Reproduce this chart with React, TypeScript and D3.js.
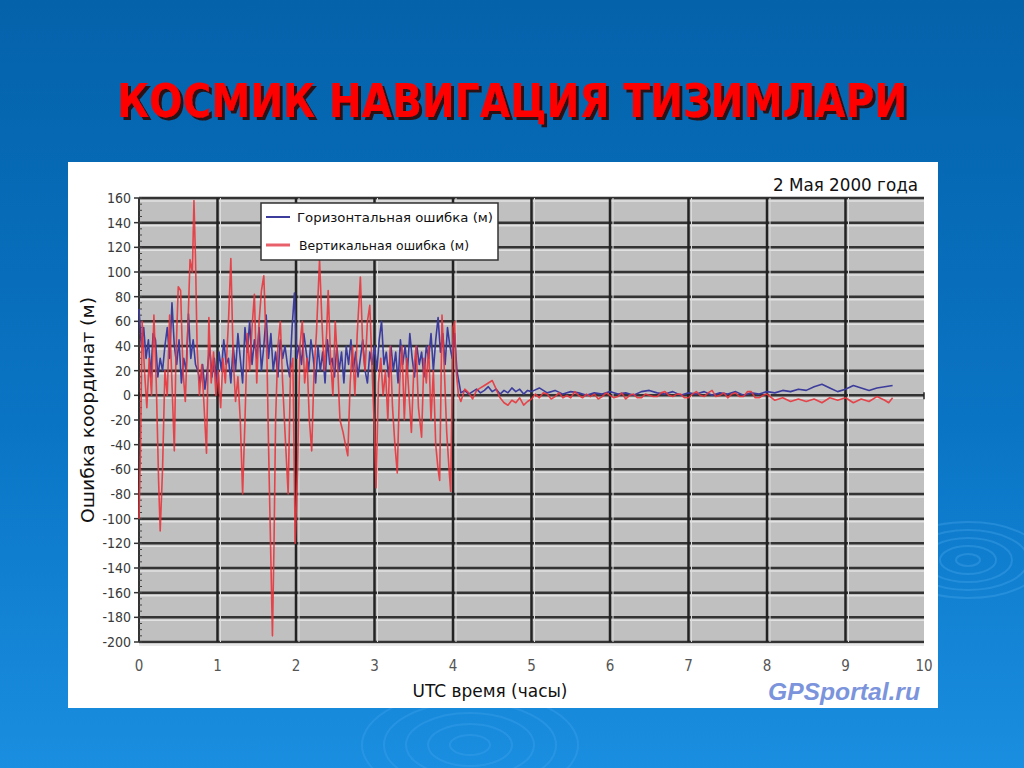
import * as d3 from 'd3'

// chart values
const yTicks = [160, 140, 120, 100, 80, 60, 40, 20, 0, -20, -40, -60, -80, -100, -120, -140, -160, -180, -200]
const xTicks = [0, 1, 2, 3, 4, 5, 6, 7, 8, 9, 10]

const horizHours = [
  0.0, 0.03, 0.06, 0.09, 0.12, 0.15, 0.18, 0.21, 0.24, 0.27, 0.3, 0.33, 0.36, 0.39, 0.42, 0.45, 0.48, 0.51, 0.54, 0.57,
  0.6, 0.63, 0.66, 0.69, 0.72, 0.75, 0.78, 0.81, 0.84, 0.87, 0.9, 0.93, 0.96, 0.99, 1.02, 1.05, 1.08, 1.11, 1.14, 1.17,
  1.2, 1.23, 1.26, 1.29, 1.32, 1.35, 1.38, 1.41, 1.44, 1.47, 1.5, 1.53, 1.56, 1.59, 1.62, 1.65, 1.68, 1.71, 1.74, 1.77,
  1.8, 1.83, 1.86, 1.89, 1.92, 1.95, 1.98, 2.01, 2.04, 2.07, 2.1, 2.13, 2.16, 2.19, 2.22, 2.25, 2.28, 2.31, 2.34, 2.37,
  2.4, 2.43, 2.46, 2.49, 2.52, 2.55, 2.58, 2.61, 2.64, 2.67, 2.7, 2.73, 2.76, 2.79, 2.82, 2.85, 2.88, 2.91, 2.94, 2.97,
  3.0, 3.03, 3.06, 3.09, 3.12, 3.15, 3.18, 3.21, 3.24, 3.27, 3.3, 3.33, 3.36, 3.39, 3.42, 3.45, 3.48, 3.51, 3.54, 3.57,
  3.6, 3.63, 3.66, 3.69, 3.72, 3.75, 3.78, 3.81, 3.84, 3.87, 3.9, 3.93, 3.96, 3.99, 4.02, 4.05, 4.1,
  4.15, 4.2, 4.25, 4.3, 4.35, 4.4, 4.45, 4.5, 4.55, 4.6, 4.65, 4.7, 4.75, 4.8, 4.85, 4.9, 4.95, 5.0,
  5.1, 5.2, 5.3, 5.4, 5.5, 5.6, 5.7, 5.8, 5.9, 6.0, 6.1, 6.2, 6.3, 6.4,
  6.5, 6.6, 6.7, 6.8, 6.9, 7.0, 7.1, 7.2, 7.3, 7.4, 7.5, 7.6, 7.7, 7.8, 7.9, 8.0, 8.1, 8.2, 8.3, 8.4, 8.5, 8.6, 8.7,
  8.8, 8.9, 9.0, 9.1, 9.2, 9.3, 9.4, 9.5, 9.6,
]
const horizError = [
  70, 40, 55, 30, 45, 15, 50, 45, 15, 30, 20, 40, 55, 30, 75, 40, 25, 45, 10, 30,
  20, 66, 30, 45, 25, 20, 10, 25, 5, 20, 40, 15, 30, 10, 35, 20, 45, 25, 30, 10,
  40, 20, 50, 30, 10, 55, 35, 60, 25, 45, 30, 55, 20, 40, 65, 30, 50, 20, 35, 15,
  45, 30, 40, 25, 15, 55, 83, 30, 40, 25, 50, 35, 20, 45, 30, 10, 40, 20, 35, 10,
  45, 25, 30, 15, 40, 20, 35, 10, 40, 25, 45, 20, 35, 15, 30, 45, 20, 10, 35, 25,
  40, 20, 45, 60, 25, 35, 15, 40, 20, 35, 10, 45, 25, 40, 20, 50, 30, 15, 40, 25,
  35, 15, 40, 30, 50, 20, 45, 63, 35, 50, 25, 55, 40, 30, 50, 20, 2,
  4, 1, 3, 5, 2, 4, 7, 3, 5, 1, 4, 2, 6, 3, 5, 1, 4, 3,
  6, 2, 4, 1, 3, 2, 0, 2, 1, 3, 1, 2, 0, 3,
  4, 2, 1, 3, 0, 2, 1, 3, 0, 2, 1, 3, 0, 2, 1, 3, 2, 4, 3, 5, 4, 7, 9,
  6, 3, 5, 8, 6, 4, 6, 7, 8,
]

const vertHours = [
  0.0, 0.02, 0.04, 0.07, 0.1, 0.13, 0.16, 0.19, 0.22, 0.25, 0.27, 0.3, 0.33, 0.36, 0.39, 0.42, 0.45, 0.47, 0.5, 0.53,
  0.56, 0.59, 0.62, 0.65, 0.68, 0.7, 0.72, 0.74, 0.77, 0.8, 0.83, 0.86, 0.89, 0.92, 0.95, 0.98, 1.01, 1.04, 1.07, 1.1,
  1.14, 1.17, 1.2, 1.23, 1.26, 1.29, 1.32, 1.35, 1.38, 1.41, 1.44, 1.47, 1.5, 1.53, 1.56, 1.59, 1.61, 1.63, 1.65, 1.67,
  1.7, 1.72, 1.74, 1.77, 1.8, 1.83, 1.86, 1.9, 1.93, 1.96, 1.99, 2.02, 2.05, 2.08, 2.11, 2.14, 2.17, 2.2, 2.23, 2.26,
  2.3, 2.33, 2.36, 2.39, 2.41, 2.44, 2.47, 2.5, 2.53, 2.56, 2.6, 2.63, 2.66, 2.69, 2.72, 2.75, 2.78, 2.82, 2.85, 2.88,
  2.91, 2.94, 2.97, 3.0, 3.02, 3.05, 3.08, 3.11, 3.14, 3.17, 3.2, 3.23, 3.26, 3.29, 3.32, 3.35, 3.38, 3.41, 3.44, 3.47,
  3.5, 3.53, 3.56, 3.6, 3.63, 3.66, 3.69, 3.72, 3.75, 3.78, 3.81, 3.83, 3.86, 3.89, 3.92, 3.95, 3.97, 4.0, 4.02, 4.04,
  4.07, 4.1, 4.15, 4.2, 4.25, 4.3, 4.35, 4.4, 4.45, 4.5, 4.55, 4.6, 4.65, 4.7, 4.75, 4.8, 4.85, 4.9, 4.95, 5.0,
  5.05, 5.1, 5.15, 5.2, 5.25, 5.3, 5.35, 5.4, 5.45, 5.5, 5.55, 5.6, 5.65, 5.7, 5.75, 5.8, 5.85, 5.9, 5.95, 6.0,
  6.05, 6.1, 6.15, 6.2, 6.25, 6.3, 6.35, 6.4, 6.45, 6.5, 6.55, 6.6, 6.65, 6.7, 6.75, 6.8, 6.85, 6.9, 6.95, 7.0,
  7.05, 7.1, 7.15, 7.2, 7.25, 7.3, 7.35, 7.4, 7.45, 7.5, 7.55, 7.6, 7.65, 7.7, 7.75, 7.8, 7.85, 7.9, 7.95, 8.0,
  8.1, 8.2, 8.3, 8.4, 8.5, 8.6, 8.7, 8.8, 8.9, 9.0,
  9.1, 9.2, 9.3, 9.4, 9.5, 9.55, 9.6,
]
const vertError = [
  -100, -40, 60, 20, -10, 30, 0, 65, 10, -70, -110, -60, 20, 0, 65, 10, -45, 30, 88, 85,
  20, -5, 50, 110, 100, 158, 110, 40, 0, 25, -10, -47, 63, 10, 35, 0, 20, -10, 30, 10,
  60, 111, 30, -5, 15, -20, -80, -20, 50, 20, 55, 82, 10, 60, 85, 97, 60, 30, -40, -103,
  -195, -120, -20, 40, 60, 10, -30, -80, 20, 30, -120, -60, 40, 60, 10, 30, -20, -45, 20, 50,
  110, 60, 20, 50, 85, 30, 0, 60, 25, -20, -30, -40, -49, 10, 40, 0, 50, 96, 40, 20,
  60, 73, 20, -30, -75, 10, 30, 0, 20, -20, 40, -10, -40, -63, 10, 40, -20, 30, 0, -30,
  20, 40, -10, -34, 30, 10, 40, -20, 20, -40, -60, -69, 65, 20, -30, -60, -78, 55, 60, 20,
  0, -5, 5, 2, -3, 4, 6, 8, 10, 12, 5, -2, -6, -8, -4, -6, -2, -8, -5, -3,
  1, -2, 2, 1, -3, -1, 2, -2, 0, -2, 3, 0, -2, 1, -1, 1, -3, -1, 2, 0,
  -2, -1, 2, -3, 0, 1, -2, -2, 1, 0, -1, -1, 2, 3, 0, -1, 1, 1, -2, -2,
  1, 3, 0, -1, 2, 4, -1, 0, 2, -2, 1, 2, -1, -1, 3, 3, -2, -2, 0, 1,
  -4, -2, -5, -3, -5, -3, -6, -2, -4, -2,
  -6, -3, -5, -1, -4, -6, -2,
]

const seriesNames = ['Горизонтальная ошибка (м)', 'Вертикальная ошибка (м)']

const narrow = "'Liberation Sans Narrow', 'DejaVu Sans Condensed', 'Liberation Sans', sans-serif"

export default function App() {
  const W = 1024
  const H = 768
  const plot = { left: 139, right: 924, top: 198, bottom: 642 }

  const x = d3.scaleLinear().domain([0, 10]).range([plot.left, plot.right])
  const y = d3.scaleLinear().domain([-200, 160]).range([plot.bottom, plot.top])

  const horizPts: [number, number][] = horizHours.map((h, i) => [h, horizError[i]])
  const vertPts: [number, number][] = vertHours.map((h, i) => [h, vertError[i]])

  const line = d3
    .line<[number, number]>()
    .x((d) => x(d[0]))
    .y((d) => y(d[1]))

  const ripples = [0, 1, 2, 3, 4]

  return (
    <svg width={W} height={H} style={{ position: 'absolute', left: 0, top: 0 }}>
      <defs>
        <linearGradient id="bg" x1="0" y1="0" x2="0" y2="1">
          <stop offset="0" stopColor="#0462aa" />
          <stop offset="0.55" stopColor="#0a74c4" />
          <stop offset="1" stopColor="#1a8ee0" />
        </linearGradient>
        <filter id="shadow" x="-5%" y="-20%" width="110%" height="150%">
          <feDropShadow dx={3} dy={3} stdDeviation={0.6} floodColor="#2a0808" floodOpacity={0.95} />
        </filter>
      </defs>
      <rect width={W} height={H} fill="url(#bg)" />

      {/* faint ripple decorations */}
      {ripples.map((r) => (
        <ellipse key={'a' + r} cx={968} cy={560} rx={12 + r * 16} ry={6 + r * 8} fill="none" stroke="#4aa8ee" strokeOpacity={0.35} strokeWidth={2} />
      ))}
      {ripples.map((r) => (
        <ellipse key={'b' + r} cx={470} cy={745} rx={20 + r * 22} ry={10 + r * 11} fill="none" stroke="#4aa8ee" strokeOpacity={0.3} strokeWidth={2} />
      ))}

      {/* slide title */}
      <text
        x={512}
        y={117}
        textAnchor="middle"
        fontFamily={narrow}
        fontWeight="bold"
        fontSize={47}
        fill="#ff0000"
        textLength={790}
        lengthAdjust="spacingAndGlyphs"
        filter="url(#shadow)"
      >
        КОСМИК НАВИГАЦИЯ ТИЗИМЛАРИ
      </text>

      {/* chart picture */}
      <rect x={68} y={162} width={870} height={546} fill="#ffffff" />
      <text x={918} y={191} textAnchor="end" fontFamily={narrow} fontSize={18} fill="#111" textLength={145} lengthAdjust="spacingAndGlyphs">
        2 Мая 2000 года
      </text>

      <rect x={plot.left} y={plot.top} width={plot.right - plot.left} height={plot.bottom - plot.top} fill="#c0c0c0" />

      {/* horizontal gridlines */}
      {yTicks.map((t) => (
        <g key={'gy' + t}>
          <line x1={plot.left} x2={plot.right} y1={y(t) + 3} y2={y(t) + 3} stroke="#e2e2e2" strokeWidth={1.5} />
          <line x1={plot.left} x2={plot.right} y1={y(t)} y2={y(t)} stroke="#333" strokeWidth={2.5} />
        </g>
      ))}
      {/* vertical gridlines */}
      {xTicks.slice(1, -1).map((t) => (
        <g key={'gx' + t}>
          <line x1={x(t) + 3} x2={x(t) + 3} y1={plot.top} y2={plot.bottom} stroke="#dcdcdc" strokeWidth={1} />
          <line x1={x(t)} x2={x(t)} y1={plot.top} y2={plot.bottom} stroke="#222" strokeWidth={2.5} />
        </g>
      ))}

      {/* axes */}
      <line x1={plot.left} x2={plot.left} y1={plot.top} y2={plot.bottom} stroke="#333" strokeWidth={2} />
      {yTicks.map((t) => (
        <line key={'ty' + t} x1={plot.left - 5} x2={plot.left} y1={y(t)} y2={y(t)} stroke="#333" strokeWidth={1.5} />
      ))}
      {d3.range(-200, 161, 5).map((t) => (
        <line key={'my' + t} x1={plot.left} x2={plot.left + 3} y1={y(t)} y2={y(t)} stroke="#444" strokeWidth={1} />
      ))}
      {xTicks.map((t) => (
        <line key={'tx' + t} x1={x(t)} x2={x(t)} y1={y(0) - 3} y2={y(0) + 4} stroke="#222" strokeWidth={1.5} />
      ))}

      {/* series */}
      <path d={line(horizPts) ?? ''} fill="none" stroke="#3c3c9c" strokeWidth={1.6} strokeLinejoin="round" />
      <path d={line(vertPts) ?? ''} fill="none" stroke="#e8353c" strokeOpacity={0.9} strokeWidth={1.6} strokeLinejoin="round" />

      {/* tick labels */}
      {yTicks.map((t) => (
        <text key={'ly' + t} x={plot.left - 8} y={y(t) + 5} textAnchor="end" fontFamily={narrow} fontSize={14} fill="#3a3a3a">
          {t}
        </text>
      ))}
      {xTicks.map((t) => (
        <text key={'lx' + t} x={x(t)} y={plot.bottom + 29} textAnchor="middle" fontFamily={narrow} fontSize={15} fill="#555">
          {t}
        </text>
      ))}

      <text x={490} y={697} textAnchor="middle" fontFamily={narrow} fontSize={17} fill="#111" textLength={155} lengthAdjust="spacingAndGlyphs">
        UTC время (часы)
      </text>
      <text
        transform={`translate(94, ${410}) rotate(-90)`}
        textAnchor="middle"
        fontFamily={narrow}
        fontSize={18}
        fill="#111"
        textLength={226}
        lengthAdjust="spacingAndGlyphs"
      >
        Ошибка координат (м)
      </text>

      {/* legend */}
      <rect x={261} y={203} width={237} height={57} fill="#ffffff" stroke="#333" strokeWidth={1.5} />
      <line x1={266} x2={290} y1={217} y2={217} stroke="#3c3c9c" strokeWidth={2} />
      <line x1={266} x2={290} y1={245} y2={245} stroke="#e8606a" strokeWidth={3} />
      <text x={297} y={222} fontFamily={narrow} fontSize={12} fill="#111" textLength={196} lengthAdjust="spacingAndGlyphs">
        {seriesNames[0]}
      </text>
      <text x={299} y={250} fontFamily={narrow} fontSize={12} fill="#111" textLength={170} lengthAdjust="spacingAndGlyphs">
        {seriesNames[1]}
      </text>

      {/* watermark */}
      <text x={920} y={700} textAnchor="end" fontFamily="'Liberation Sans', Arial, sans-serif" fontStyle="italic" fontWeight="bold" fontSize={24} fill="#7b94dc" textLength={152} lengthAdjust="spacingAndGlyphs">
        GPSportal.ru
      </text>
    </svg>
  )
}
